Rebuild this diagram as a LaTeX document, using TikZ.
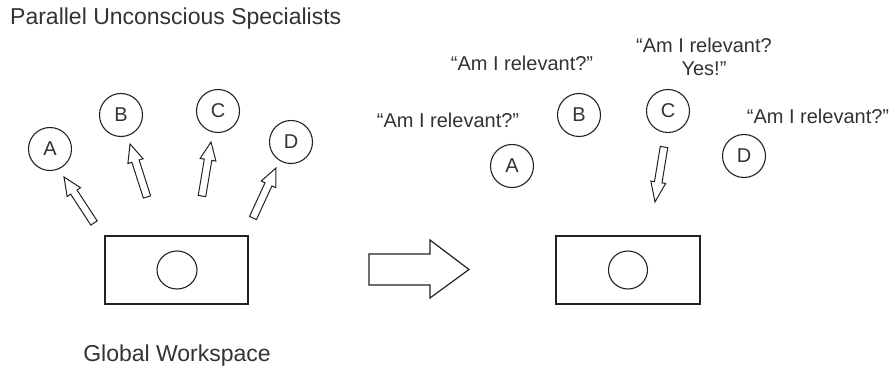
\documentclass[tikz,border=0pt]{standalone}
\usepackage{fontspec}
\setmainfont{Liberation Sans}
\usetikzlibrary{calc}
\definecolor{ink}{HTML}{222222}
\definecolor{txt}{HTML}{333333}
\tikzset{
  spec/.style={circle, draw=ink, line width=1.1pt, minimum size=43pt, inner sep=0pt, text=txt, font=\fontsize{20}{22}\selectfont},
  lbl/.style={text=txt, inner sep=0pt, font=\fontsize{20}{23}\selectfont, align=center},
  big/.style={text=txt, inner sep=0pt, font=\fontsize{23}{26}\selectfont},
  wsbox/.style={draw=ink, line width=1.2pt},
  wscirc/.style={draw=ink, line width=1.1pt},
  harrow/.style={draw=ink, line width=1pt, fill=white, line join=miter}
}
\newcommand\hollowarrow[5]{%
  \draw[harrow] let \p1=($(#2)-(#1)$), \n1={atan2(\y1,\x1)}, \n2={veclen(\x1,\y1)} in
    [shift={(#1)}, rotate=\n1]
    (0pt,-#3) -- ({\n2-#5},-#3) -- ({\n2-#5},-#4) -- ({\n2},0pt) -- ({\n2-#5},#4) -- ({\n2-#5},#3) -- (0pt,#3) -- cycle;}
\begin{document}
\begin{tikzpicture}[x=1pt,y=-1pt]
\useasboundingbox (0,0) rectangle (894,366);
% titles
\node[big, anchor=base west] (title) at (10,25) {Parallel Unconscious Specialists};
\node[big, anchor=base] (gw) at (177,361) {Global Workspace};
% left panel
\node[spec] (lA) at (50,149) {A};
\node[spec] (lB) at (121,115) {B};
\node[spec] (lC) at (218,111) {C};
\node[spec] (lD) at (291,142) {D};
\draw[wsbox] (105,236) rectangle (248,304);
\draw[wscirc] (177,270) ellipse (20pt and 19pt);
\coordinate (tA) at (94,223); \coordinate (hA) at (64,177);
\coordinate (tB) at (147,197); \coordinate (hB) at (130,144);
\coordinate (tC) at (202,196); \coordinate (hC) at (211,142);
\coordinate (tD) at (253,218); \coordinate (hD) at (276,168);
\hollowarrow{tA}{hA}{3.8pt}{8pt}{18pt}
\hollowarrow{tB}{hB}{3.8pt}{8pt}{18pt}
\hollowarrow{tC}{hC}{3.8pt}{8pt}{18pt}
\hollowarrow{tD}{hD}{3.8pt}{8pt}{18pt}
% big arrow
\draw[harrow, line width=1.2pt] (369,254) -- (430,254) -- (430,240) -- (469,269.5) -- (430,298) -- (430,285) -- (369,285) -- cycle;
% right panel
\node[spec] (rA) at (512,166) {A};
\node[spec] (rB) at (579,115) {B};
\node[spec] (rC) at (668,111) {C};
\node[spec] (rD) at (744,156) {D};
\node[lbl, anchor=base] (qA) at (448,128) {“Am I relevant?”};
\node[lbl, anchor=base] (qB) at (522,71) {“Am I relevant?”};
\node[lbl, anchor=base] (qC) at (704,76) {“Am I relevant?\\Yes!”};
\node[lbl, anchor=base] (qD) at (818,124) {“Am I relevant?”};
\draw[wsbox] (556,236) rectangle (700,304);
\draw[wscirc] (628,270) ellipse (19.5pt and 19pt);
\coordinate (tR) at (664,147); \coordinate (hR) at (655,202);
\hollowarrow{tR}{hR}{3.8pt}{7.5pt}{20pt}
\end{tikzpicture}
\end{document}
